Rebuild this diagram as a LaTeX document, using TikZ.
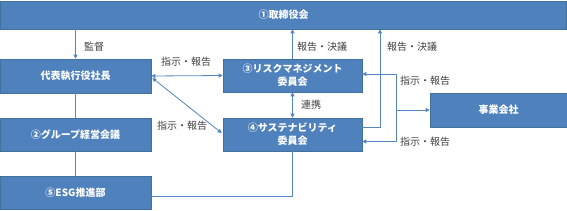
\documentclass[tikz,border=0pt]{standalone}
\usepackage{fontspec}
\setmainfont{Noto Sans CJK JP}
\usetikzlibrary{arrows.meta}
\definecolor{boxblue}{HTML}{4F81BD}
\definecolor{boxline}{HTML}{41719C}
\definecolor{linkblue}{HTML}{5585C2}
\definecolor{labgray}{HTML}{404040}
\tikzset{
  box/.style={draw=boxline, line width=0.6pt, fill=boxblue, text=white, font=\bfseries\fontsize{10}{13}\selectfont, align=center, inner sep=0pt},
  lab/.style={text=labgray, font=\fontsize{10}{12}\selectfont, inner sep=0pt},
  conn/.style={draw=linkblue, line width=0.8pt},
  arr/.style={conn, -{Triangle[length=4pt,width=4pt]}},
  arrtwo/.style={conn, {Triangle[length=4pt,width=4pt]}-{Triangle[length=4pt,width=4pt]}}
}
\begin{document}
\begin{tikzpicture}[x=1pt,y=-1pt]
\useasboundingbox (0,0) rectangle (567,210);
\node[box, minimum width=566pt, minimum height=28pt] (top) at (283.5,15) {①取締役会};
\node[box, minimum width=151pt, minimum height=34pt] (dai) at (75.5,76) {代表執行役社長};
\node[box, minimum width=151pt, minimum height=33pt] (grp) at (75.5,134.5) {②グループ経営会議};
\node[box, minimum width=151pt, minimum height=33pt] (esg) at (75.5,193) {⑤ESG推進部};
\node[box, minimum width=139pt, minimum height=33pt] (risk) at (292.5,75.5) {③リスクマネジメント\\委員会};
\node[box, minimum width=139pt, minimum height=33pt] (sus) at (292.5,134.5) {④サステナビリティ\\委員会};
\node[box, minimum width=137pt, minimum height=34pt] (biz) at (498.5,110) {事業会社};

% supervision
\draw[arr] (top.south -| dai.north) -- (dai.north);
\node[lab] (l1) at (94,47) {監督};
\draw[conn] (dai.south) -- (grp.north);
\draw[conn] (grp.south) -- (esg.north);
% CEO <-> risk
\draw[arrtwo] (dai.east) -- (risk.west);
\node[lab] (l2) at (186,62) {指示・報告};
% CEO <-> sustainability
\draw[arrtwo] ([xshift=1pt,yshift=-2pt]dai.east) -- ([xshift=-1pt,yshift=1.5pt]sus.west);
\node[lab] (l3) at (182,126) {指示・報告};
% risk -> board
\draw[arr] (risk.north) -- (risk.north |- top.south);
\node[lab] (l4) at (322,47) {報告・決議};
% cooperation
\draw[arrtwo] (sus.north) -- (risk.south);
\node[lab] (l5) at (311,105) {連携};
% ESG -> sustainability
\draw[conn] ([yshift=-3pt]esg.east) -| (sus.south);
% sustainability -> board
\draw[arr] ([yshift=7.5pt]sus.east) -| ([xshift=96.5pt]top.south);
\node[lab] (l6) at (412,47) {報告・決議};
% business companies trunk
\coordinate (t1) at ([xshift=34pt,yshift=1.5pt]risk.east);
\coordinate (t2) at ([xshift=34pt,yshift=-7pt]sus.east);
\draw[arr] (t1) -- ([yshift=1.5pt]risk.east);
\draw[conn] (t1) -- (t2);
\draw[arr] (biz.west -| t1) -- (biz.west);
\draw[arr] (t2) -- ([yshift=-7pt]sus.east);
\node[lab] (l7) at (425,81) {指示・報告};
\node[lab] (l8) at (425,142) {指示・報告};
\end{tikzpicture}
\end{document}
